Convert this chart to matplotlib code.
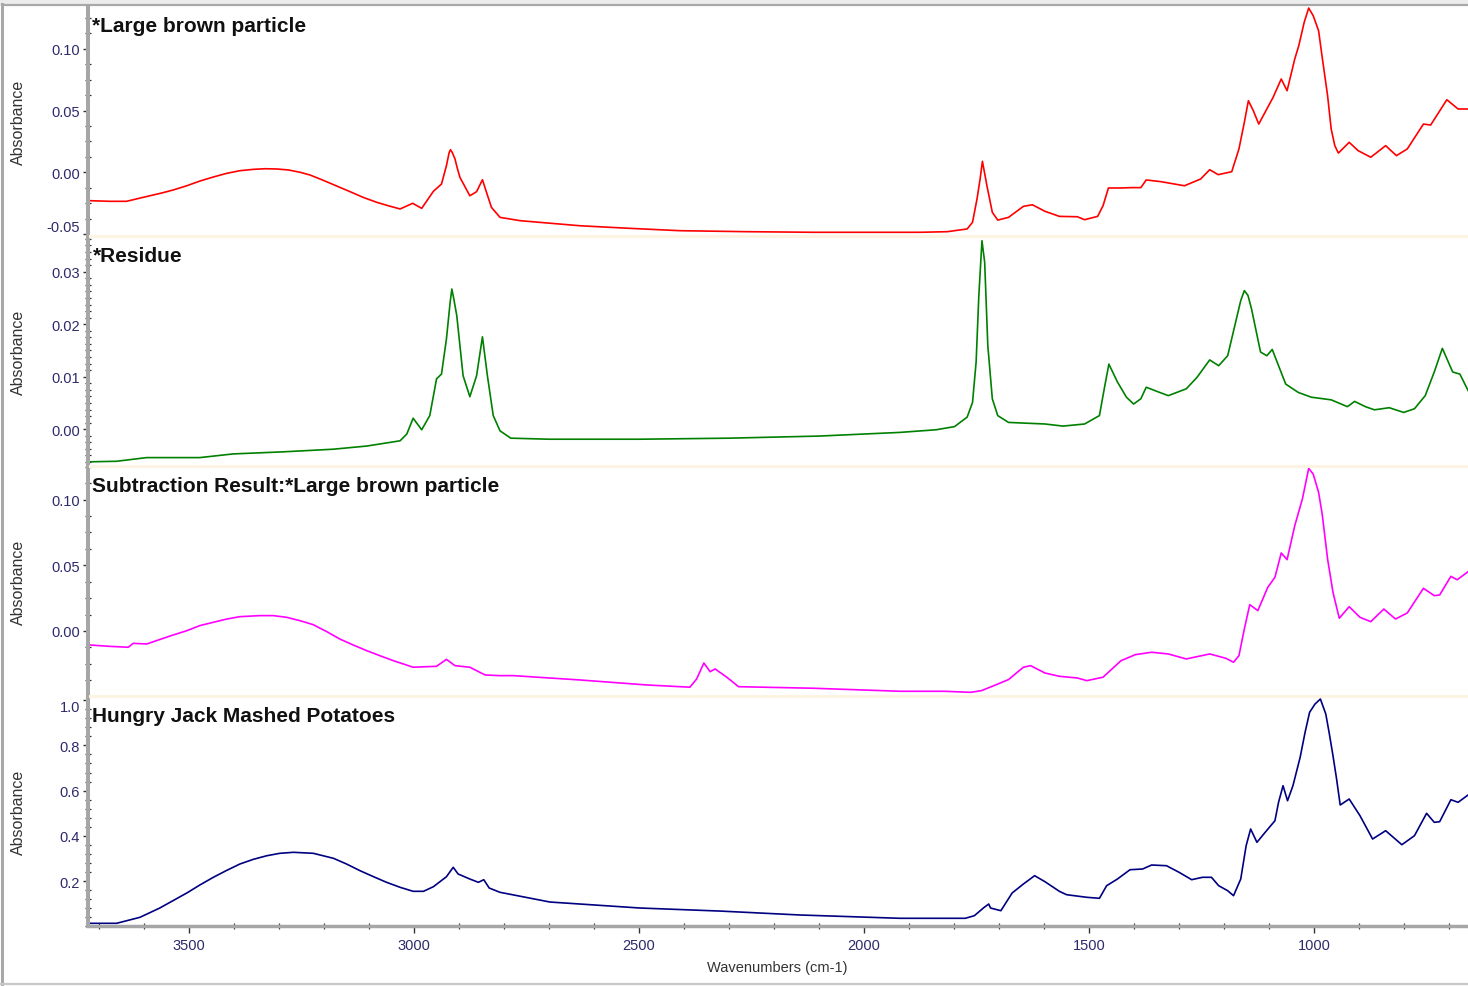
import matplotlib
matplotlib.use("Agg")
import matplotlib.pyplot as plt
from matplotlib.lines import Line2D
from matplotlib.ticker import FixedLocator, MultipleLocator, FormatStrFormatter

# ---- spectra (wavenumber cm-1, absorbance) ----
brown_wn = [3719, 3676, 3639, 3587, 3561, 3535, 3505, 3476, 3446, 3416, 3387, 3357, 3331, 3305,
            3279, 3253, 3231, 3209, 3179, 3142, 3113, 3083, 3057, 3031, 3003, 2983, 2957, 2939,
            2928, 2922, 2919, 2915, 2909, 2904, 2898, 2876, 2861, 2848, 2839, 2828, 2809,
            2764, 2631, 2520, 2409, 2261, 2113, 1876, 1815, 1771, 1759, 1749, 1742, 1737, 1733,
            1727, 1715, 1703, 1679, 1646, 1626, 1598, 1566, 1526, 1510, 1481, 1469, 1457, 1429,
            1405, 1385, 1373, 1340, 1288, 1252, 1232, 1213, 1183, 1167, 1155, 1146, 1135, 1123,
            1091, 1073, 1060, 1043, 1034, 1022, 1012, 1002, 990, 982, 970, 962, 954, 946,
            922, 902, 874, 841, 817, 793, 757, 741, 705, 680, 658]
brown_abs = [-0.0230, -0.0235, -0.0235, -0.0190, -0.0168, -0.0143, -0.0109, -0.0071, -0.0038, -0.0008,
             0.0013, 0.0024, 0.0029, 0.0027, 0.0019, 0.0000, -0.0022, -0.0054, -0.0100, -0.0157,
             -0.0203, -0.0243, -0.0271, -0.0297, -0.0251, -0.0292, -0.0154, -0.0095, 0.0054, 0.0160,
             0.0183, 0.0160, 0.0108, 0.0035, -0.0041, -0.0190, -0.0157, -0.0060, -0.0162, -0.0284,
             -0.0365, -0.0392, -0.0433, -0.0454, -0.0473, -0.0481, -0.0486, -0.0486, -0.0481, -0.0459,
             -0.0405, -0.0216, -0.0050, 0.0089, 0.0010, -0.0109, -0.0324, -0.0387, -0.0365, -0.0276,
             -0.0263, -0.0316, -0.0357, -0.0360, -0.0384, -0.0357, -0.0271, -0.0127, -0.0127, -0.0124,
             -0.0124, -0.0062, -0.0076, -0.0109, -0.0054, 0.0021, -0.0019, 0.0005, 0.0189, 0.0405,
             0.0580, 0.0499, 0.0391, 0.0608, 0.0756, 0.0661, 0.0918, 0.1026, 0.1215, 0.1331,
             0.1269, 0.1147, 0.0932, 0.0621, 0.0351, 0.0216, 0.0156, 0.0243, 0.0175, 0.0122,
             0.0216, 0.0135, 0.0189, 0.0391, 0.0383, 0.0588, 0.0513, 0.0513]

residue_wn = [3719, 3661, 3594, 3476, 3402, 3290, 3179, 3105, 3031, 3016, 3002, 2983, 2965, 2950,
              2939, 2928, 2920, 2916, 2912, 2905, 2891, 2876, 2861, 2848, 2837, 2824, 2809, 2785,
              2700, 2500, 2300, 2100, 1920, 1840, 1799, 1771, 1759, 1751, 1745, 1738, 1732, 1725,
              1715, 1703, 1679, 1598, 1558, 1510, 1477, 1465, 1456, 1437, 1417, 1401, 1385, 1373,
              1349, 1324, 1284, 1260, 1232, 1212, 1192, 1171, 1163, 1155, 1147, 1139, 1119, 1105,
              1093, 1079, 1063, 1035, 1006, 962, 926, 910, 886, 866, 833, 801, 777, 753,
              733, 715, 692, 676, 658]
residue_abs = [-0.0062, -0.0061, -0.0054, -0.0054, -0.0047, -0.0043, -0.0038, -0.0032, -0.0022, -0.0009,
               0.0021, -0.0001, 0.0026, 0.0096, 0.0105, 0.0172, 0.0240, 0.0267, 0.0250, 0.0216,
               0.0102, 0.0062, 0.0102, 0.0176, 0.0102, 0.0026, -0.0003, -0.0017, -0.0019, -0.0019,
               -0.0017, -0.0013, -0.0006, -0.0001, 0.0005, 0.0023, 0.0051, 0.0128, 0.0254, 0.0359,
               0.0318, 0.0159, 0.0058, 0.0026, 0.0013, 0.0010, 0.0006, 0.0010, 0.0026, 0.0083,
               0.0124, 0.0090, 0.0061, 0.0048, 0.0058, 0.0080, 0.0072, 0.0064, 0.0077, 0.0099,
               0.0132, 0.0121, 0.0140, 0.0216, 0.0245, 0.0264, 0.0255, 0.0229, 0.0147, 0.0140,
               0.0152, 0.0121, 0.0086, 0.0070, 0.0061, 0.0056, 0.0043, 0.0053, 0.0043, 0.0037,
               0.0041, 0.0032, 0.0039, 0.0064, 0.0109, 0.0154, 0.0109, 0.0105, 0.0074]

subtr_wn = [3719, 3676, 3635, 3624, 3594, 3535, 3505, 3476, 3446, 3416, 3387, 3342, 3313, 3283,
            3253, 3224, 3194, 3165, 3135, 3105, 3076, 3046, 3024, 3002, 2950, 2928, 2909, 2876,
            2842, 2809, 2779, 2631, 2483, 2387, 2372, 2356, 2342, 2331, 2305, 2279, 2113, 1920,
            1823, 1763, 1739, 1715, 1679, 1646, 1630, 1598, 1566, 1526, 1505, 1469, 1429, 1397,
            1361, 1324, 1284, 1232, 1196, 1179, 1167, 1155, 1143, 1125, 1103, 1087, 1073, 1060,
            1043, 1026, 1012, 1002, 990, 982, 970, 958, 944, 922, 898, 874, 845, 819,
            793, 757, 733, 721, 696, 682, 658]
subtr_abs = [-0.0107, -0.0117, -0.0124, -0.0094, -0.0099, -0.0030, 0.0002, 0.0041, 0.0066, 0.0091,
             0.0109, 0.0117, 0.0117, 0.0104, 0.0078, 0.0048, -0.0005, -0.0061, -0.0107, -0.0150,
             -0.0188, -0.0226, -0.0251, -0.0276, -0.0269, -0.0216, -0.0264, -0.0276, -0.0335, -0.0340,
             -0.0340, -0.0373, -0.0411, -0.0428, -0.0365, -0.0244, -0.0310, -0.0289, -0.0352, -0.0424,
             -0.0436, -0.0459, -0.0459, -0.0467, -0.0454, -0.0421, -0.0370, -0.0276, -0.0264, -0.0320,
             -0.0345, -0.0358, -0.0378, -0.0352, -0.0226, -0.0180, -0.0162, -0.0175, -0.0213, -0.0175,
             -0.0208, -0.0238, -0.0188, 0.0015, 0.0200, 0.0155, 0.0332, 0.0409, 0.0594, 0.0543,
             0.0801, 0.1005, 0.1238, 0.1195, 0.1056, 0.0890, 0.0548, 0.0294, 0.0097, 0.0185,
             0.0104, 0.0071, 0.0167, 0.0091, 0.0137, 0.0325, 0.0269, 0.0274, 0.0416, 0.0390, 0.0451]

potato_wn = [3719, 3661, 3609, 3565, 3505, 3476, 3446, 3416, 3387, 3357, 3327, 3298, 3268, 3224,
             3179, 3150, 3120, 3090, 3061, 3031, 3002, 2979, 2957, 2928, 2913, 2902, 2876, 2857,
             2845, 2833, 2809, 2698, 2498, 2320, 2142, 1920, 1775, 1755, 1733, 1723, 1719, 1696,
             1671, 1646, 1621, 1598, 1566, 1550, 1505, 1477, 1461, 1437, 1409, 1381, 1361, 1328,
             1300, 1272, 1248, 1228, 1212, 1192, 1179, 1163, 1151, 1141, 1127, 1110, 1087, 1079,
             1069, 1059, 1047, 1031, 1020, 1010, 998, 986, 974, 966, 958, 950, 942, 922,
             898, 870, 841, 805, 777, 750, 733, 721, 696, 680, 658]
potato_abs = [0.0128, 0.0128, 0.0394, 0.0805, 0.1469, 0.1823, 0.2164, 0.2473, 0.2752, 0.2960,
              0.3119, 0.3226, 0.3270, 0.3226, 0.3004, 0.2752, 0.2456, 0.2190, 0.1942, 0.1721,
              0.1544, 0.1544, 0.1748, 0.2190, 0.2606, 0.2310, 0.2088, 0.1942, 0.2058, 0.1690,
              0.1500, 0.1070, 0.0805, 0.0670, 0.0496, 0.0350, 0.0350, 0.0465, 0.0836, 0.0982,
              0.0805, 0.0686, 0.1469, 0.1867, 0.2235, 0.1969, 0.1544, 0.1394, 0.1279, 0.1234,
              0.1792, 0.2088, 0.2500, 0.2531, 0.2708, 0.2677, 0.2385, 0.2058, 0.2164, 0.2164,
              0.1792, 0.1571, 0.1350, 0.2088, 0.3562, 0.4301, 0.3712, 0.4124, 0.4668, 0.5482,
              0.6217, 0.5553, 0.6217, 0.7473, 0.8580, 0.9465, 0.9830, 1.0053, 0.9389, 0.8500,
              0.7544, 0.6510, 0.5363, 0.5628, 0.4889, 0.3858, 0.4226, 0.3606, 0.4004, 0.4996,
              0.4597, 0.4624, 0.5597, 0.5482, 0.5805]

titles = ["*Large brown particle", "*Residue",
          "Subtraction Result:*Large brown particle", "Hungry Jack Mashed Potatoes"]
colors = ["#ff0000", "#008000", "#ff00ff", "#000080"]
ylims = [(-0.0516, 0.1345), (-0.0070, 0.0368), (-0.0495, 0.1256), (-0.0004, 1.0173)]
major_ticks = [[-0.05, 0.0, 0.05, 0.10], [0.0, 0.01, 0.02, 0.03],
               [0.0, 0.05, 0.10], [0.2, 0.4, 0.6, 0.8, 1.0]]
minor_steps = [0.0125, 0.00125, 0.0125, 0.04]
fmts = ["%.2f", "%.2f", "%.2f", "%.1f"]
x_major = [3500, 3000, 2500, 2000, 1500, 1000]

spectra = [(brown_wn, brown_abs), (residue_wn, residue_abs),
           (subtr_wn, subtr_abs), (potato_wn, potato_abs)]

plt.rcParams['font.family'] = ['Liberation Sans', 'DejaVu Sans']

W, H = 1468, 987
fig = plt.figure(figsize=(W / 100, H / 100), dpi=100)
fig.patch.set_facecolor("white")

spine_gray = "#a6a6a6"
tick_col = "#2d2a6a"
left_px = 87.5
panel_px = [(7.3, 237), (237, 467), (467, 697), (697.3, 927.3)]

axes = []
for i, (top, bot) in enumerate(panel_px):
    ax = fig.add_axes([left_px / W, 1 - bot / H, 1 - left_px / W, (bot - top) / H])
    wn, ab = spectra[i]
    ax.plot(wn, ab, color=colors[i], lw=1.2)
    ax.set_xlim(3725.6, 658)
    ax.set_ylim(*ylims[i])
    for s in ["top", "right"]:
        ax.spines[s].set_visible(False)
    ax.spines["left"].set_color(spine_gray)
    ax.spines["left"].set_linewidth(2.9)
    ax.yaxis.set_major_locator(FixedLocator(major_ticks[i]))
    ax.yaxis.set_minor_locator(MultipleLocator(minor_steps[i]))
    ax.yaxis.set_major_formatter(FormatStrFormatter(fmts[i]))
    ax.tick_params(axis="y", which="major", direction="out", length=3.6, width=1.0,
                   color="#333333", labelsize=10.5, labelcolor=tick_col, pad=1.8)
    ax.tick_params(axis="y", which="minor", direction="inout", length=4.6, width=0.9,
                   color="#333333")
    ax.annotate(titles[i], xy=(0, 1), xycoords="axes fraction", xytext=(5, -24.7),
                textcoords="offset pixels", ha="left", va="baseline",
                fontsize=15, fontweight="bold", color="#111111")
    fig.text(18 / W, 1 - (top + bot) / 2 / H, "Absorbance", rotation=90,
             ha="center", va="center", fontsize=11.5, color="#333333")
    if i < 3:
        ax.spines["bottom"].set_visible(False)
        ax.tick_params(axis="x", which="both", bottom=False, labelbottom=False)
    axes.append(ax)

# shift the edge labels inside their panel like the original software does
axes[0].yaxis.get_major_ticks()[0].label1.set_va("bottom")
axes[3].yaxis.get_major_ticks()[-1].label1.set_va("top")

ax4 = axes[3]
ax4.spines["bottom"].set_color(spine_gray)
ax4.spines["bottom"].set_linewidth(2.5)
ax4.xaxis.set_major_locator(FixedLocator(x_major))
ax4.xaxis.set_minor_locator(MultipleLocator(100))
ax4.tick_params(axis="x", which="major", direction="out", length=5, width=1.0,
                color="#333333", labelsize=10.5, labelcolor=tick_col, pad=3.6)
ax4.tick_params(axis="x", which="minor", direction="inout", length=4.5, width=0.9,
                color="#333333")
fig.text(777 / W, 1 - 968 / H, "Wavenumbers (cm-1)", ha="center", va="center",
         fontsize=10.5, color="#333333")

# panel separators and window frame
for y in [237, 467, 697]:
    fig.add_artist(Line2D([(left_px + 2) / W, 1], [1 - y / H, 1 - y / H],
                          transform=fig.transFigure, color="#fdf3e2", lw=2.2))
fig.add_artist(Line2D([0, 1], [1 - 2.5 / H, 1 - 2.5 / H], transform=fig.transFigure,
                      color="#ececec", lw=3.6))
fig.add_artist(Line2D([2 / W, 1], [1 - 6.3 / H, 1 - 6.3 / H], transform=fig.transFigure,
                      color="#a8a8a8", lw=1.6))
fig.add_artist(Line2D([2 / W, 2 / W], [0, 1 - 5 / H], transform=fig.transFigure,
                      color="#a8a8a8", lw=2.2))
fig.add_artist(Line2D([0, 1], [1 - 985 / H, 1 - 985 / H], transform=fig.transFigure,
                      color="#c8c8c8", lw=1.6))

fig.savefig("out.png", dpi=100)
